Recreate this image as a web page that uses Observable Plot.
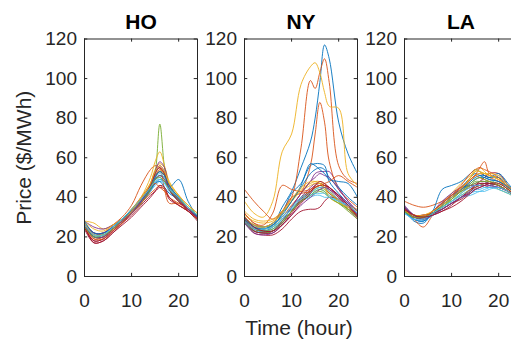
<!DOCTYPE html>
<html>
<head>
<meta charset="utf-8">
<script src="https://cdn.jsdelivr.net/npm/d3@7"></script>
<script src="https://cdn.jsdelivr.net/npm/@observablehq/plot@0.6"></script>
<style>
html, body { margin: 0; padding: 0; background: #fff; overflow: hidden; }
#c { position: relative; width: 511px; height: 340px; overflow: hidden; background: #fff; }
</style>
</head>
<body>
<div id="c"></div>
<script>
const hours = [0, 2, 4, 6, 8, 10, 12, 14, 15, 16, 17, 18, 20, 22, 24];
const xTicks = [0, 10, 20];
const yTicks = [0, 20, 40, 60, 80, 100, 120];
const panelTitles = ["HO", "NY", "LA"];
const xLabel = "Time (hour)";
const yLabel = "Price ($/MWh)";
const colorOrder = ["#0072BD", "#D95319", "#EDB120", "#7E2F8E", "#77AC30", "#4DBEEE", "#A2142F"];

const hoPrices = [
  [27,22,21,24,28,33,38,45,49,51,50,46,40,35,30],
  [26,20,20,24,29,34,40,47,53,55,51,46,39,34,30],
  [28,27,24,26,29,33,39,47,54,57,55,48,41,35,31],
  [28,25,24,26,29,33,38,46,52,56,53,46,39,34,29],
  [26,21,21,24,28,32,37,44,52,77,55,44,38,33,29],
  [25,20,21,24,28,33,38,44,48,50,48,44,39,34,30],
  [25,18,19,23,27,31,36,41,43,45,44,39,36,33,29],
  [27,21,21,25,29,33,37,43,47,49,48,45,49,38,30],
  [27,21,22,26,30,36,46,54,56,55,44,37,37,34,30],
  [27,22,22,25,29,34,40,50,58,63,56,46,40,35,31],
  [26,22,22,25,29,33,38,46,53,58,55,46,39,34,30],
  [26,20,20,24,28,32,37,44,49,51,49,44,39,34,30],
  [26,20,21,24,28,32,37,43,46,48,47,43,38,34,30],
  [26,17,18,22,27,32,37,44,50,54,52,44,38,33,29],
  [26,20,20,24,28,33,38,44,47,48,45,42,39,34,30],
  [25,19,20,24,28,33,39,45,47,45,43,40,37,34,31],
  [28,24,23,26,29,33,39,46,51,54,52,47,41,36,32],
  [27,22,22,25,29,33,38,45,51,53,51,45,39,34,29],
  [26,21,21,24,28,32,37,44,50,53,51,45,40,35,31],
  [27,21,21,25,29,33,38,45,50,52,50,45,40,35,31],
  [25,18,19,23,28,33,39,46,52,55,52,44,38,34,29],
  [28,22,22,25,29,33,38,45,50,53,51,46,40,35,30],
  [26,19,19,23,27,32,37,42,44,46,44,40,36,33,29],
  [27,21,21,24,28,33,39,47,53,56,53,47,41,36,32],
  [26,20,20,24,28,32,38,45,49,51,49,44,39,34,30],
  [25,20,21,24,29,34,39,45,49,50,48,44,39,35,31],
  [26,21,21,25,29,34,39,45,48,49,47,44,40,35,31],
  [24,17,18,22,26,30,35,40,43,46,45,40,36,33,28]
];

const nyPrices = [
  [29,25,24,26,35,43,55,68,80,98,117,110,78,62,52],
  [32,27,25,27,33,40,65,99,95,103,110,98,56,49,47],
  [38,32,30,38,63,72,97,106,108,103,93,86,85,52,46],
  [30,25,22,23,28,35,42,48,52,53,53,53,45,38,33],
  [29,26,25,26,30,35,40,43,45,46,45,43,38,34,31],
  [28,24,23,24,28,33,38,41,43,44,43,41,38,34,30],
  [28,22,21,21,24,29,33,34,34,35,38,40,39,34,29],
  [28,24,23,25,32,42,47,56,57,57,56,48,42,37,33],
  [30,26,24,26,30,36,42,56,72,88,78,58,44,39,35],
  [31,28,27,28,32,38,44,47,48,48,47,44,39,36,34],
  [27,23,22,23,27,33,40,45,47,47,46,44,40,36,32],
  [29,25,24,25,29,34,39,42,44,45,44,42,38,34,31],
  [27,23,23,24,29,34,38,40,41,41,40,40,38,35,31],
  [29,24,23,23,27,33,39,44,46,47,46,45,40,35,30],
  [30,26,25,27,32,38,45,52,54,55,54,50,45,40,36],
  [44,38,33,29,33,40,42,43,45,46,45,42,39,35,31],
  [30,26,25,27,32,38,43,46,47,47,46,43,38,34,31],
  [28,23,22,23,28,35,42,48,50,52,51,50,44,38,33],
  [27,23,22,23,27,33,38,41,43,44,43,40,37,33,29],
  [29,25,24,26,30,35,40,42,44,45,45,43,39,35,32],
  [29,23,22,22,26,32,38,43,45,46,46,45,41,36,31],
  [29,25,24,26,31,38,46,57,56,54,52,49,48,47,40],
  [32,27,26,32,46,44,43,44,45,46,47,48,51,48,45],
  [33,29,28,29,33,39,45,48,48,47,45,40,37,35,33],
  [27,22,21,22,26,31,36,40,42,44,45,44,41,37,31],
  [28,24,23,24,28,33,38,41,42,43,42,40,37,34,30],
  [28,24,24,25,29,34,39,41,42,42,42,40,38,36,32],
  [30,25,23,23,26,31,37,42,46,48,47,45,41,36,30]
];

const laPrices = [
  [35,31,29,33,37,41,45,50,52,51,50,49,48,45,41],
  [38,36,35,36,38,41,44,49,51,52,51,50,48,44,40],
  [33,31,30,32,35,39,44,50,53,55,53,51,50,45,40],
  [34,29,28,32,36,40,43,45,46,46,47,47,46,43,40],
  [32,30,30,32,35,38,41,44,45,46,47,47,44,42,39],
  [33,30,30,31,34,37,40,42,43,43,44,45,51,46,40],
  [33,30,30,31,33,36,40,43,45,46,46,45,45,43,40],
  [34,28,27,33,44,46,48,52,54,53,51,50,50,46,41],
  [35,29,25,31,36,40,44,48,51,55,58,52,49,45,41],
  [34,31,31,33,37,42,47,51,53,53,52,51,49,45,41],
  [35,31,30,33,38,42,45,46,46,47,47,46,45,43,40],
  [33,31,30,32,35,38,42,46,48,48,48,47,46,43,40],
  [32,29,28,31,35,38,41,43,44,44,45,45,44,42,40],
  [34,31,31,32,34,37,40,44,46,48,50,52,52,46,41],
  [35,31,30,32,36,40,44,48,50,51,51,50,52,47,41],
  [34,31,30,33,37,41,46,52,54,55,54,53,50,45,41],
  [33,30,30,33,37,41,45,49,51,52,52,51,49,45,41],
  [36,31,29,33,37,41,44,46,47,48,48,47,46,43,40],
  [33,30,29,32,36,39,43,46,47,48,48,48,47,44,40],
  [32,29,28,31,34,37,40,41,42,43,43,44,45,43,40],
  [35,31,31,32,34,37,39,43,46,47,47,47,46,43,40],
  [33,29,28,32,36,40,44,47,49,50,50,49,48,45,41],
  [34,30,30,33,37,41,45,49,51,50,49,48,46,43,40],
  [33,31,31,33,36,40,44,50,54,53,52,52,51,46,41],
  [35,30,29,31,34,37,40,42,44,45,46,46,45,43,40],
  [33,30,30,32,35,39,43,47,49,50,49,48,46,43,40],
  [32,29,29,32,35,38,42,45,46,46,45,45,45,43,40],
  [34,31,30,31,33,35,38,42,44,45,46,47,47,44,40]
];

const panelData = [hoPrices, nyPrices, laPrices];
const axisColor = "#262626";
const container = document.getElementById("c");

panelData.forEach((series, p) => {
  const rows = [];
  series.forEach((vals, s) => {
    vals.forEach((v, i) => rows.push({series: s, ci: s % colorOrder.length, hour: hours[i], value: v}));
  });
  const marks = [
    Plot.line(rows, {x: "hour", y: "value", z: "series", stroke: "ci", strokeWidth: 0.9, curve: "catmull-rom", clip: true}),
    Plot.ruleX(xTicks, {x: d => d, y1: 0, y2: 1.6, stroke: axisColor}),
    Plot.ruleX(xTicks, {x: d => d, y1: 118.4, y2: 120, stroke: axisColor}),
    Plot.ruleY(yTicks, {y: d => d, x1: 0, x2: 0.7, stroke: axisColor}),
    Plot.ruleY(yTicks, {y: d => d, x1: 23.3, x2: 24, stroke: axisColor}),
    Plot.frame({stroke: axisColor, strokeWidth: 1}),
    Plot.text([panelTitles[p]], {text: d => d, frameAnchor: "top", lineAnchor: "middle", textAnchor: "middle", dy: -17, fontSize: 21, fontWeight: "bold", fill: "#000"})
  ];
  if (p === 0) {
    marks.push(Plot.text([yLabel], {text: d => d, frameAnchor: "left", lineAnchor: "middle", textAnchor: "middle", rotate: -90, dx: -60, fontSize: 21, fill: axisColor}));
  }
  if (p === 1) {
    marks.push(Plot.text([xLabel], {text: d => d, frameAnchor: "bottom", lineAnchor: "middle", textAnchor: "middle", dy: 52, dx: -2, fontSize: 21, fill: axisColor}));
  }
  const svg = Plot.plot({
    width: 200,
    height: 340,
    marginLeft: 84,
    marginRight: 3,
    marginTop: 38.5,
    marginBottom: 64,
    style: {background: "transparent", overflow: "visible", fontFamily: "'Liberation Sans', Arial, sans-serif", fontSize: "19px", color: axisColor},
    x: {domain: [0, 24], ticks: xTicks, tickSize: 0, tickPadding: 17, label: null},
    y: {domain: [0, 120], ticks: yTicks, tickSize: 0, tickPadding: 7.5, label: null},
    color: {type: "ordinal", domain: colorOrder.map((c, i) => i), range: colorOrder},
    marks
  });
  svg.style.position = "absolute";
  svg.style.left = (p * 160) + "px";
  svg.style.top = "0px";
  svg.style.maxWidth = "none";
  container.appendChild(svg);
});
</script>
</body>
</html>
